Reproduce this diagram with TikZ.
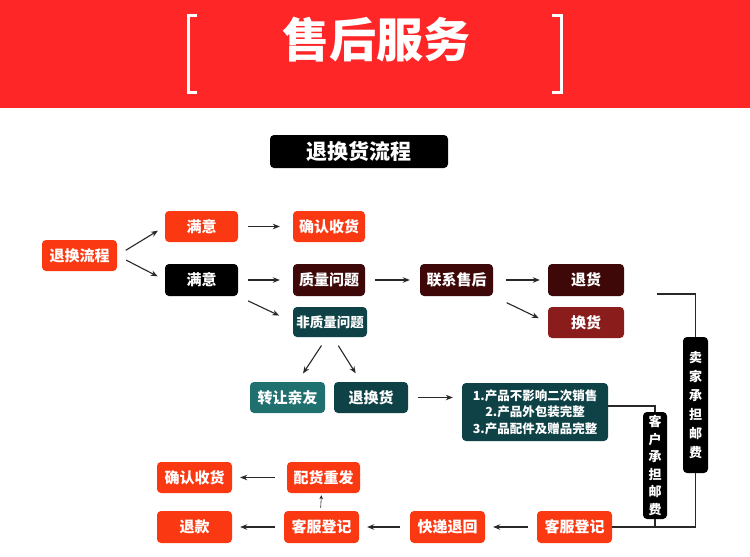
\documentclass[tikz,border=0pt]{standalone}
\usepackage{fontspec}
\setmainfont{Noto Sans CJK SC}
\usetikzlibrary{arrows.meta, calc}
\definecolor{bannerred}{RGB}{254, 38, 38}
\definecolor{boxred}{RGB}{250, 56, 18}
\definecolor{boxbrown}{RGB}{62, 8, 8}
\definecolor{boxwine}{RGB}{138, 28, 28}
\definecolor{boxteal}{RGB}{14, 66, 70}
\definecolor{lightteal}{RGB}{32, 112, 112}
\definecolor{linegray}{RGB}{40, 40, 40}

\begin{document}
\begin{tikzpicture}[
  x=1pt, y=-1pt,
  box/.style={rounded corners=4pt, text=white, inner sep=0pt, minimum width=75pt, minimum height=31pt, font=\bfseries\fontsize{15}{18}\selectfont},
  rbox/.style={box, fill=boxred},
  bbox/.style={box, fill=boxbrown},
  tbox/.style={box, fill=boxteal},
  vbox/.style={box, fill=black, align=center, minimum width=25pt, font=\bfseries\fontsize{13}{19}\selectfont},
  arr/.style={-{Stealth[length=7pt, width=5.5pt]}, line width=1.1pt, linegray},
  wire/.style={line width=1.1pt, linegray}
]
  \useasboundingbox (0,0) rectangle (750,557);
  \fill[white] (0,0) rectangle (750,557);

  % Banner
  \fill[bannerred] (0,0) rectangle (750,108);
  \draw[white, line width=3pt] (197,15) -- (188,15) -- (188,92) -- (197,92);
  \draw[white, line width=3pt] (552,15) -- (561,15) -- (561,92) -- (552,92);
  \node[text=white, font=\bfseries\fontsize{47}{50}\selectfont] (title) at (376,40) {售后服务};

  \node[box, fill=black, minimum width=178pt, minimum height=33pt, font=\bfseries\fontsize{21}{24}\selectfont] (hdr) at (359,151.5) {退换货流程};

  % First split
  \node[rbox] (start) at (79.5,255.5) {退换流程};
  \node[rbox, minimum width=73pt] (ok) at (201.5,226.5) {满意};
  \node[rbox, minimum width=72pt] (okrecv) at (329,226.5) {确认收货};
  \node[box, fill=black, minimum width=73pt, minimum height=32pt] (notok) at (201.5,280) {满意};
  \draw[arr, shorten <=10pt, shorten >=8pt] (start.east) -- (ok.west);
  \draw[arr, shorten <=10pt, shorten >=8pt] (start.east) -- (notok.west);
  \draw[arr, shorten <=10pt, shorten >=13pt] (ok.east) -- (okrecv.west);

  % Quality branch
  \node[bbox, minimum width=72pt, minimum height=32pt] (qual) at (329,280) {质量问题};
  \node[bbox, minimum width=73pt, minimum height=32pt] (contact) at (456.5,280) {联系售后};
  \node[bbox, minimum width=76pt, minimum height=32pt] (ret) at (586,280) {退货};
  \node[box, fill=boxwine, minimum width=76pt] (exch) at (586,322.5) {换货};
  \draw[arr, shorten <=10pt, shorten >=13pt] (notok.east) -- (qual.west);
  \draw[arr, shorten <=10pt, shorten >=10pt] (qual.east) -- (contact.west);
  \draw[arr, shorten <=13pt, shorten >=8pt] (contact.east) -- (ret.west);
  \draw[arr, shorten <=15pt, shorten >=10pt] (contact.south east) -- (exch.west);

  % Non-quality branch
  \node[tbox, minimum width=74pt, minimum height=30pt, font=\bfseries\fontsize{13.5}{16}\selectfont] (nonq) at (330,322) {非质量问题};
  \node[box, fill=lightteal] (gift) at (287.5,397.5) {转让亲友};
  \node[tbox, minimum width=74pt] (retex) at (371,397.5) {退换货};
  \node[tbox, minimum width=146pt, minimum height=58pt, align=center, font=\bfseries\fontsize{12.5}{16.5}\selectfont] (cond) at (535,412) {1.产品不影响二次销售\\2.产品外包装完整\\3.产品配件及赠品完整};
  \draw[arr, shorten <=11pt, shorten >=15pt] (notok.south east) -- (nonq.west);
  \draw[arr, shorten <=10pt, shorten >=10pt] ([xshift=-3pt]nonq.south) -- ([xshift=10pt]gift.north);
  \draw[arr, shorten <=10pt, shorten >=10pt] ([xshift=3pt]nonq.south) -- ([xshift=-10pt]retex.north);
  \draw[arr, shorten <=10pt, shorten >=9pt] (retex.east) -- (retex.east -| cond.west);

  % Postage
  \node[vbox, minimum height=136pt] (seller) at (695.5,405) {卖\\家\\承\\担\\邮\\费};
  \node[vbox, minimum width=24pt, minimum height=107pt, font=\bfseries\fontsize{13}{17.5}\selectfont] (buyer) at (655,465.5) {客\\户\\承\\担\\邮\\费};

  % Return row
  \node[rbox, minimum height=32pt] (svc2) at (574.5,527) {客服登记};
  \node[rbox, minimum height=32pt] (back) at (447.5,527) {快递退回};
  \node[rbox, minimum height=32pt] (svc1) at (321.5,527) {客服登记};
  \node[rbox, minimum height=32pt] (refund) at (194.5,527) {退款};
  \node[rbox, minimum width=73pt] (resend) at (323.5,477.5) {配货重发};
  \node[rbox] (recv2) at (194.5,477.5) {确认收货};

  \draw[wire] ([shift={(33,14)}]ret.east) -| (seller.north);
  \draw[wire] (seller.south) |- (svc2.east);
  \draw[wire] ([yshift=6pt]cond.east) -| (buyer.north);
  \draw[wire] (buyer.south) -- (buyer.south |- svc2.east);

  \draw[arr, shorten <=9pt, shorten >=8pt] (svc2.west) -- (back.east);
  \draw[arr, shorten <=10pt, shorten >=8pt] (back.west) -- (svc1.east);
  \draw[arr, shorten <=9pt, shorten >=8pt] (svc1.west) -- (refund.east);
  \draw[arr, shorten <=12pt, shorten >=8pt] (resend.west) -- (recv2.east);
  \draw[-{Stealth[length=4pt, width=3.5pt]}, line width=0.6pt, linegray, shorten <=3pt, shorten >=2pt] ([xshift=-1pt]svc1.north) -- (svc1.north |- resend.south);
\end{tikzpicture}
\end{document}
